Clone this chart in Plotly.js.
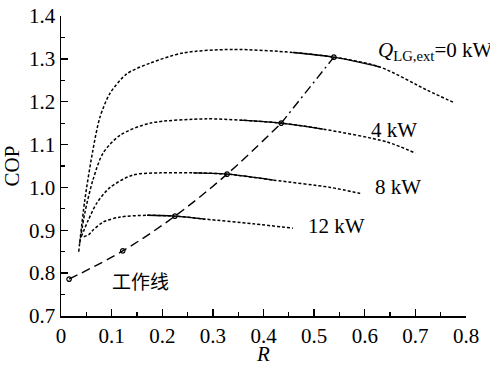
<!DOCTYPE html>
<html><head><meta charset="utf-8">
<script src="https://cdn.plot.ly/plotly-3.0.1.min.js"></script>
<style>html,body{margin:0;padding:0;background:#fff}#chart{width:490px;height:366px}</style>
</head><body><div id="chart"></div>
<script>
// Curves: R vs COP for each Q_LG,ext
const q0X  = [0.035,0.047,0.063,0.077,0.097,0.13,0.176,0.242,0.34,0.458,0.539,0.63,0.723,0.778];
const q0Y  = [0.85,0.97,1.087,1.164,1.22,1.265,1.29,1.314,1.322,1.315,1.304,1.281,1.227,1.197];
const q4X  = [0.037,0.047,0.063,0.083,0.117,0.176,0.288,0.354,0.435,0.518,0.644,0.70];
const q4Y  = [0.87,0.94,1.017,1.08,1.122,1.15,1.16,1.157,1.15,1.136,1.106,1.08];
const q8X  = [0.04,0.054,0.071,0.097,0.142,0.196,0.261,0.328,0.42,0.532,0.591];
const q8Y  = [0.885,0.924,0.964,1.0,1.029,1.034,1.034,1.031,1.017,1.0,0.986];
const q12X = [0.045,0.055,0.063,0.083,0.117,0.17,0.225,0.285,0.38,0.458];
const q12Y = [0.885,0.89,0.9,0.919,0.931,0.935,0.933,0.926,0.915,0.905];
// solid (operating) ranges of R for each curve
const solidRanges = [[0.458,0.63],[0.354,0.518],[0.261,0.42],[0.17,0.285]];
// working line points
const workX = [0.016,0.122,0.225,0.328,0.435,0.539];
const workY = [0.786,0.852,0.933,1.031,1.15,1.304];
const xTicks = [0,0.1,0.2,0.3,0.4,0.5,0.6,0.7,0.8];
const yTicks = [0.7,0.8,0.9,1.0,1.1,1.2,1.3,1.4];

const curves = [[q0X,q0Y],[q4X,q4Y],[q8X,q8Y],[q12X,q12Y]];
const traces = [];
curves.forEach((c,i)=>{
  traces.push({x:c[0],y:c[1],mode:'lines',line:{color:'#000',width:1.5,dash:'3px,2px',shape:'spline',smoothing:0.8},hoverinfo:'skip'});
  const r = solidRanges[i];
  const sx=[],sy=[];
  c[0].forEach((v,k)=>{ if(v>=r[0]-1e-9 && v<=r[1]+1e-9){sx.push(v);sy.push(c[1][k]);} });
  traces.push({x:sx,y:sy,mode:'lines',line:{color:'#000',width:1.4,shape:'spline'},hoverinfo:'skip'});
});
// working line: dashed part then dash-dot part
const splitIdx = 4;
traces.push({x:workX.slice(0,splitIdx+1),y:workY.slice(0,splitIdx+1),mode:'lines',line:{color:'#000',width:1.4,dash:'9px,5px',shape:'spline'},hoverinfo:'skip'});
traces.push({x:workX.slice(splitIdx),y:workY.slice(splitIdx),mode:'lines',line:{color:'#000',width:1.4,dash:'9px,4px,2px,4px'},hoverinfo:'skip'});
traces.push({x:workX,y:workY,mode:'markers',marker:{symbol:'circle-open',size:4.5,color:'#000',line:{width:1.2}},hoverinfo:'skip'});

const fam = 'Liberation Serif';
const f = s => ({family:fam,size:s,color:'#000'});
const layout = {
  width:490,height:366,margin:{l:61,r:24,t:16,b:50},
  paper_bgcolor:'#fff',plot_bgcolor:'#fff',showlegend:false,font:f(20),
  xaxis:{showgrid:false,zeroline:false,showline:true,linecolor:'#000',linewidth:1.5,
    ticks:'inside',ticklen:7,tickwidth:1.3,tickcolor:'#000',tickfont:f(21),
    range:[0,0.8],tickmode:'array',tickvals:xTicks,ticktext:xTicks.map(v=>v===0?'0':v.toFixed(1)),
    minor:{ticks:'inside',ticklen:4,tickwidth:1.2,tickcolor:'#000',dtick:0.05,tick0:0},
    title:{text:'<i>R</i>',font:f(21),standoff:2}},
  yaxis:{showgrid:false,zeroline:false,showline:true,linecolor:'#000',linewidth:1.5,
    ticks:'inside',ticklen:7,tickwidth:1.3,tickcolor:'#000',tickfont:f(21),
    range:[0.7,1.4],tickmode:'array',tickvals:yTicks,ticktext:yTicks.map(v=>v.toFixed(1)),
    minor:{ticks:'inside',ticklen:4,tickwidth:1.2,tickcolor:'#000',dtick:0.05,tick0:0.7},
    title:{text:'COP',font:f(21),standoff:5}},
  annotations:[
    {x:0.622,y:1.318,xanchor:'left',yanchor:'middle',showarrow:false,text:'<i>Q</i><sub>LG,ext</sub>=0 kW',font:f(21)},
    {x:0.609,y:1.134,xanchor:'left',yanchor:'middle',showarrow:false,text:'4 kW',font:f(21)},
    {x:0.617,y:1.0,xanchor:'left',yanchor:'middle',showarrow:false,text:'8 kW',font:f(21)},
    {x:0.484,y:0.911,xanchor:'left',yanchor:'middle',showarrow:false,text:'12 kW',font:f(21)},
    {x:0.097,y:0.784,xanchor:'left',yanchor:'middle',showarrow:false,text:'工作线',font:{family:'Noto Sans CJK SC',size:19,color:'#000'}}
  ]
};
Plotly.newPlot('chart',traces,layout,{staticPlot:true,displayModeBar:false});
</script></body></html>
